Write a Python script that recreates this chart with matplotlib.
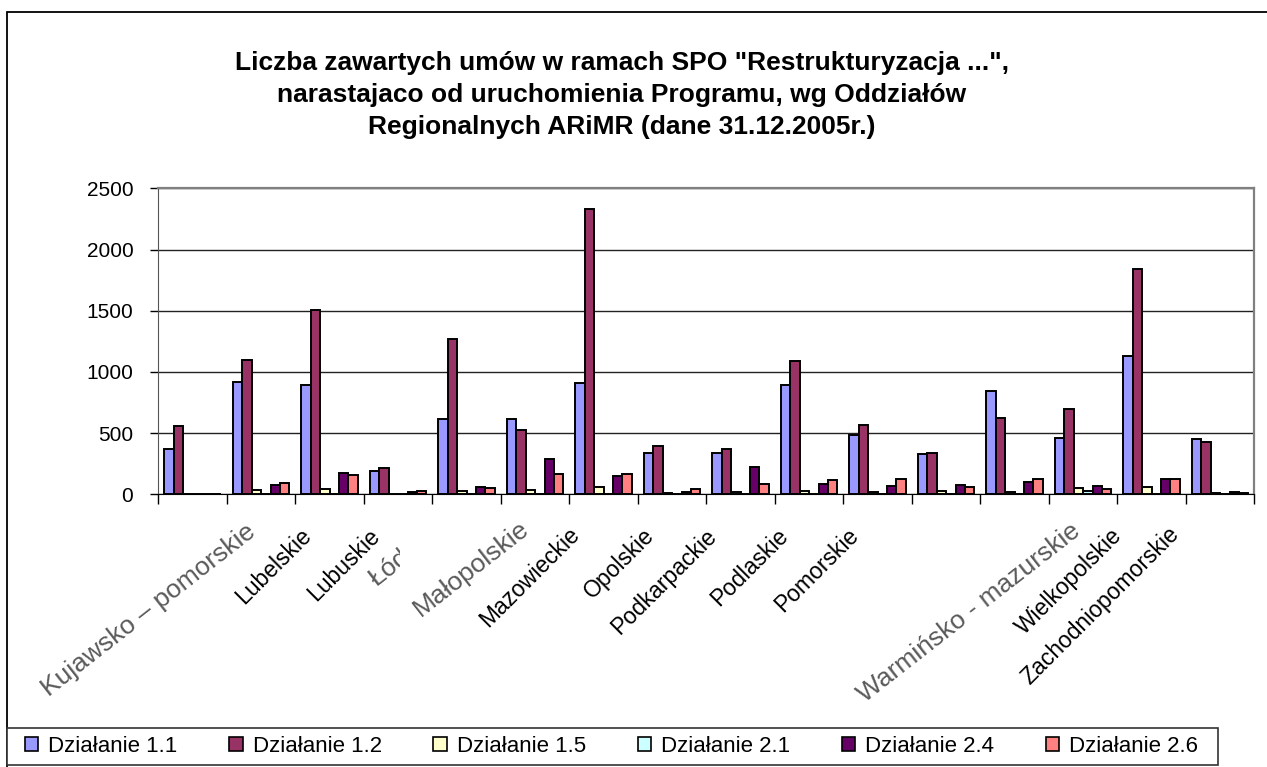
#!/usr/bin/env python3
"""
Liczba zawartych umów SPO "Restrukturyzacja ..." wg Oddziałów Regionalnych ARiMR.

Grouped bar chart (6 series x 16 voivodeships), saved to out.png.
"""

from __future__ import annotations

import matplotlib

matplotlib.use("Agg")
import matplotlib.pyplot as plt
import numpy as np
from matplotlib.patches import Patch, Rectangle
from matplotlib.transforms import Bbox

# --- data ---
CATEGORIES = [
    "Dolnośląskie",
    "Kujawsko – pomorskie",
    "Lubelskie",
    "Lubuskie",
    "Łódzkie",
    "Małopolskie",
    "Mazowieckie",
    "Opolskie",
    "Podkarpackie",
    "Podlaskie",
    "Pomorskie",
    "Śląskie",
    "Świętokrzyskie",
    "Warmińsko - mazurskie",
    "Wielkopolskie",
    "Zachodniopomorskie",
]
SERIES = ["Działanie 1.1", "Działanie 1.2", "Działanie 1.5",
          "Działanie 2.1", "Działanie 2.4", "Działanie 2.6"]

DZ_1_1 = [368, 918, 890, 191, 618, 613, 912, 340, 340, 893, 482, 329, 847, 463, 1130, 452]
DZ_1_2 = [561, 1097, 1503, 215, 1269, 528, 2331, 392, 373, 1092, 569, 338, 624, 697, 1838, 428]
DZ_1_5 = [5, 35, 46, 5, 30, 35, 63, 10, 22, 27, 19, 30, 19, 49, 63, 10]
DZ_2_1 = [0, 0, 0, 0, 0, 0, 0, 0, 0, 0, 0, 0, 0, 27, 0, 0]
DZ_2_4 = [6, 74, 177, 22, 63, 286, 150, 19, 221, 84, 71, 76, 101, 68, 125, 19]
DZ_2_6 = [6, 90, 161, 30, 52, 166, 166, 41, 84, 117, 123, 57, 125, 41, 125, 14]

TITLE = ('Liczba zawartych umów w ramach SPO "Restrukturyzacja ...",\n'
         "narastajaco od uruchomienia Programu, wg Oddziałów\n"
         "Regionalnych ARiMR (dane 31.12.2005r.)")
Y_TICKS = [0, 500, 1000, 1500, 2000, 2500]

# --- style ---
W, H, DPI = 1267, 767, 100
COLORS = ["#9999FF", "#993366", "#FFFFCC", "#CCFFFF", "#660066", "#FF8080"]
BAR_W = 0.138
HIDDEN = {0, 11, 12}          # labels not drawn in the reference
BLURRED = {1, 4, 5, 13}       # greyish, flatter labels
CLIP_RIGHT_PX = {4: 400}      # Łódzkie is cut off in the reference
# (dx, dy) pixel nudges of each label's top-right end from the category centre
LABEL_NUDGE = {
    1: (-16, -25), 2: (-30, -30), 3: (-30, -30), 4: (-30, -22),
    5: (-16, -22), 6: (-36, -29), 7: (-30, -30), 8: (-36, -30),
    9: (-33, -30), 10: (-31, -30), 13: (-13, -24), 14: (-41, -30),
    15: (-53, -28),
}

plt.rcParams["font.family"] = ["Liberation Sans", "DejaVu Sans"]


def draw_bars(ax) -> None:
    x = np.arange(len(CATEGORIES))
    series_vals = [DZ_1_1, DZ_1_2, DZ_1_5, DZ_2_1, DZ_2_4, DZ_2_6]
    for j, (vals, color) in enumerate(zip(series_vals, COLORS)):
        ax.bar(x + (j - 2.5) * BAR_W, vals, BAR_W, color=color,
               edgecolor="black", linewidth=1.4, zorder=3)


def draw_category_labels(ax) -> None:
    for i, name in enumerate(CATEGORIES):
        if i in HIDDEN:
            continue
        dx, dy = LABEL_NUDGE[i]
        blurred = i in BLURRED
        txt = ax.annotate(
            name,
            xy=(i, 0),
            xycoords=("data", "axes fraction"),
            xytext=(dx, dy),
            textcoords="offset pixels",
            rotation=38 if blurred else 45,
            rotation_mode="anchor",
            ha="right",
            va="top",
            fontsize=19 if blurred else 16.5,
            color="#5a5a5a" if blurred else "black",
            annotation_clip=False,
        )
        if i in CLIP_RIGHT_PX:
            txt.set_clip_box(Bbox.from_extents(0, 0, CLIP_RIGHT_PX[i], H))
            txt.set_clip_on(True)


def main() -> None:
    fig = plt.figure(figsize=(W / DPI, H / DPI), dpi=DPI)
    ax = fig.add_axes([158.3 / W, 1 - 494.3 / H, (1254.3 - 158.3) / W, (494.3 - 188.3) / H])

    draw_bars(ax)

    ax.set_xlim(-0.5, len(CATEGORIES) - 0.5)
    ax.set_ylim(0, 2500)
    ax.set_yticks(Y_TICKS)
    ax.set_yticklabels([str(v) for v in Y_TICKS], fontsize=15)
    ax.set_xticks(np.arange(len(CATEGORIES) + 1) - 0.5)
    ax.set_xticklabels([])
    ax.tick_params(axis="y", direction="out", length=6, width=1, pad=12, colors="black")
    ax.tick_params(axis="x", direction="out", length=7, width=1)
    ax.yaxis.grid(True, color="#222222", linewidth=1.0)
    ax.set_axisbelow(True)

    ax.spines["top"].set_color("#808080")
    ax.spines["top"].set_linewidth(1.6)
    ax.spines["right"].set_color("#808080")
    ax.spines["right"].set_linewidth(1.6)
    ax.spines["left"].set_color("#555555")
    ax.spines["bottom"].set_color("black")

    draw_category_labels(ax)

    fig.text(622 / W, 1 - 95 / H, TITLE, ha="center", va="center",
             fontsize=19, fontweight="bold", linespacing=1.42)

    # outer chart border (right / bottom edges fall outside the picture)
    fig.add_artist(Rectangle((7 / W, -0.05), 1.2, (H - 12) / H + 0.05,
                             transform=fig.transFigure, fill=False,
                             edgecolor="black", linewidth=1.3))

    # legend box, then a frameless legend spread inside it
    fig.add_artist(Rectangle((7 / W, 1 - 765 / H), (1218 - 7) / W, 37 / H,
                             transform=fig.transFigure, facecolor="white",
                             edgecolor="#333333", linewidth=1.2))
    handles = [Patch(facecolor=c, edgecolor="black", linewidth=1.2) for c in COLORS]
    fig.legend(
        handles, SERIES,
        loc="center left",
        bbox_to_anchor=(25 / W, 1 - 746.5 / H, (1198 - 25) / W, 0),
        mode="expand", ncol=6, fontsize=16,
        frameon=False, borderaxespad=0, borderpad=0,
        handlelength=0.6, handleheight=0.6, handletextpad=0.45,
    )

    fig.savefig("out.png", dpi=DPI)
    plt.close(fig)


if __name__ == "__main__":
    main()
